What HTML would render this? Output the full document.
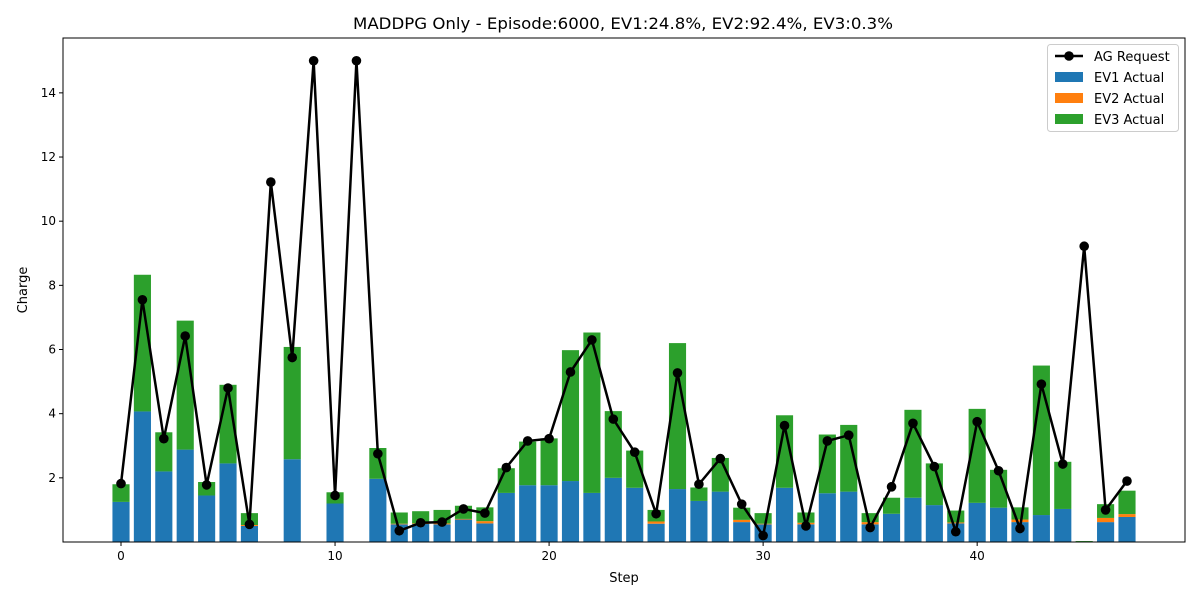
<!DOCTYPE html>
<html><head><meta charset="utf-8">
<style>
body{margin:0;background:#fff;}
svg{display:block;font-family:"DejaVu Sans","Liberation Sans",sans-serif;}
</style></head>
<body>
<svg id="chart" width="1200" height="600"></svg>
<script>
const steps = Array.from({length:48},(_,i)=>i);
const ev1Actual = [1.25,4.07,2.2,2.88,1.45,2.45,0.5,0,2.58,0,1.2,0,1.97,0.55,0.56,0.55,0.7,0.58,1.53,1.77,1.77,1.9,1.53,2.0,1.69,0.57,1.65,1.28,1.57,0.62,0.55,1.69,0.55,1.52,1.57,0.55,0.88,1.38,1.15,0.58,1.22,1.07,0.62,0.84,1.03,0,0.62,0.78];
const ev2Actual = [0,0,0,0,0,0,0.03,0,0,0,0,0,0,0.02,0.02,0.03,0.02,0.07,0,0,0,0,0,0,0,0.07,0,0,0,0.07,0.02,0,0.05,0,0,0.07,0,0,0,0.03,0,0,0.08,0,0,0,0.13,0.09];
const ev3Actual = [0.55,4.26,1.22,4.02,0.42,2.45,0.37,0,3.5,0,0.35,0,0.96,0.35,0.38,0.42,0.41,0.43,0.77,1.36,1.46,4.08,5.0,2.08,1.16,0.36,4.55,0.42,1.05,0.38,0.33,2.26,0.32,1.83,2.08,0.28,0.5,2.74,1.3,0.37,2.93,1.18,0.38,4.66,1.47,0.03,0.43,0.73];
const agRequest = [1.82,7.55,3.22,6.42,1.78,4.8,0.55,11.22,5.75,15.0,1.45,15.0,2.75,0.35,0.6,0.62,1.03,0.9,2.32,3.15,3.22,5.3,6.3,3.83,2.8,0.88,5.27,1.8,2.6,1.18,0.2,3.63,0.5,3.15,3.33,0.45,1.72,3.7,2.35,0.32,3.75,2.22,0.42,4.92,2.43,9.22,1.0,1.9];
const xTicks = [0,10,20,30,40];
const yTicks = [2,4,6,8,10,12,14];

const L=63,R=1185,T=38,B=542;
const xmin=-2.71,xmax=49.71,ymin=0,ymax=15.71;
const X=v=>L+(v-xmin)/(xmax-xmin)*(R-L);
const Y=v=>B-(v-ymin)/(ymax-ymin)*(B-T);
const NS="http://www.w3.org/2000/svg";
const svg=document.getElementById('chart');
function mk(tag,attrs,parent){const e=document.createElementNS(NS,tag);for(const k in attrs)e.setAttribute(k,attrs[k]);(parent||svg).appendChild(e);return e;}

const bw=X(0.8)-X(0);
const colors=['#1f77b4','#ff7f0e','#2ca02c'];
const series=[ev1Actual,ev2Actual,ev3Actual];
const names=['ev1','ev2','ev3'];
steps.forEach((s,i)=>{
  let base=0;
  series.forEach((arr,k)=>{
    const v=arr[i];
    if(v>0){
      const r=mk('rect',{x:X(s-0.4),y:Y(base+v),width:bw,height:Y(base)-Y(base+v),fill:colors[k]});
      
      
    }
    base+=v;
  });
});
const pts=steps.map((s,i)=>X(s)+','+Y(agRequest[i])).join(' ');
const pl=mk('polyline',{points:pts,fill:'none',stroke:'#000','stroke-width':2.5,'stroke-linejoin':'round'});


steps.forEach((s,i)=>{
  const c=mk('circle',{cx:X(s),cy:Y(agRequest[i]),r:4.8,fill:'#000'});
  
  
});
const fr=mk('rect',{x:L,y:T,width:R-L,height:B-T,fill:'none',stroke:'#000','stroke-width':1});


xTicks.forEach(t=>{
  mk('line',{x1:X(t),x2:X(t),y1:B,y2:B+4,stroke:'#000'});
  const tx=mk('text',{x:X(t),y:B+18,'text-anchor':'middle','font-size':12,fill:'#000'});
  tx.textContent=t;
  
  
});
yTicks.forEach(t=>{
  mk('line',{x1:L-4,x2:L,y1:Y(t),y2:Y(t),stroke:'#000'});
  const tx=mk('text',{x:L-7,y:Y(t)+4,'text-anchor':'end','font-size':12,fill:'#000'});
  tx.textContent=t;
  
  
});
</script>
<svg style="position:absolute;left:0;top:0" width="1200" height="600">
  <text x="623" y="29" text-anchor="middle" font-size="16" textLength="540" lengthAdjust="spacingAndGlyphs" fill="#000">MADDPG Only - Episode:6000, EV1:24.8%, EV2:92.4%, EV3:0.3%</text>
  <text x="624" y="582" text-anchor="middle" font-size="13" fill="#000">Step</text>
  <text x="27" y="290" text-anchor="middle" font-size="13" fill="#000" transform="rotate(-90 27 290)">Charge</text>
  <g>
    <rect x="1047.5" y="44.5" width="131" height="87" rx="3" fill="#fff" fill-opacity="0.8" stroke="#ccc"/>
    <g>
      <line x1="1055" x2="1083" y1="56" y2="56" stroke="#000" stroke-width="2.5"/>
      <circle cx="1069" cy="56" r="4.8" fill="#000"/>
      <text x="1094" y="61" font-size="13">AG Request</text>
    </g>
    <g>
      <rect x="1055" y="72" width="28" height="10" fill="#1f77b4"/>
      <text x="1094" y="82" font-size="13">EV1 Actual</text>
    </g>
    <g>
      <rect x="1055" y="93" width="28" height="10" fill="#ff7f0e"/>
      <text x="1094" y="103" font-size="13">EV2 Actual</text>
    </g>
    <g>
      <rect x="1055" y="114" width="28" height="10" fill="#2ca02c"/>
      <text x="1094" y="124" font-size="13">EV3 Actual</text>
    </g>
  </g>
</svg>
</body></html>
